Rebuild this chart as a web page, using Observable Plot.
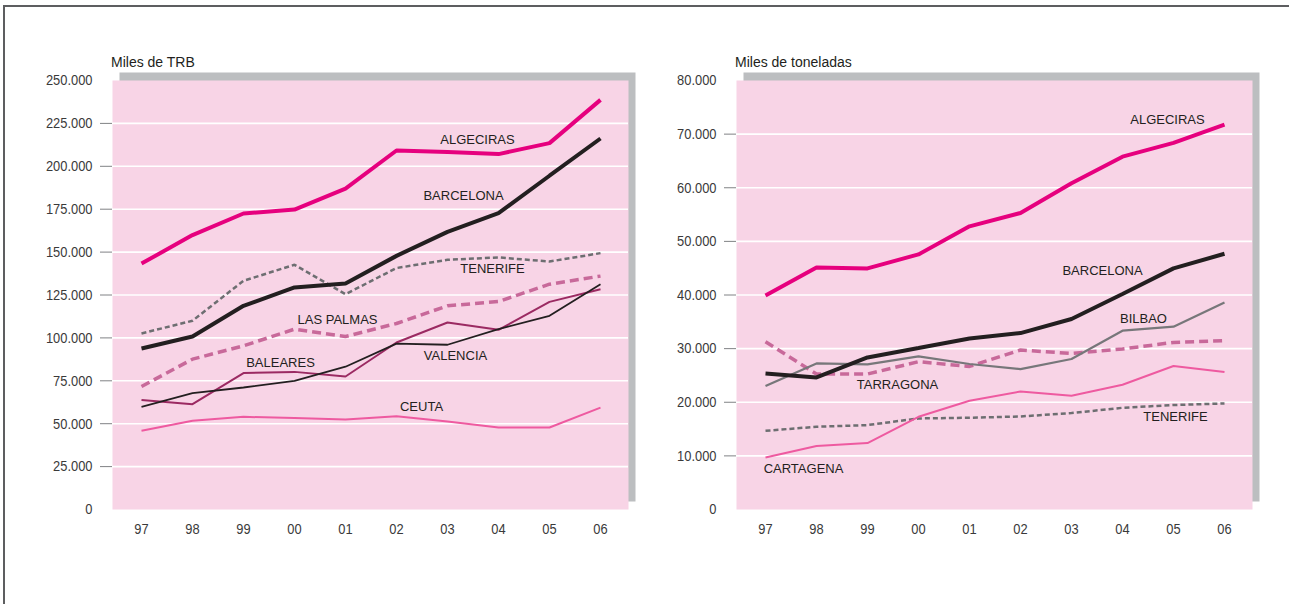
<!DOCTYPE html>
<html>
<head>
<meta charset="utf-8">
<script src="https://cdn.jsdelivr.net/npm/d3@7"></script>
<script src="https://cdn.jsdelivr.net/npm/@observablehq/plot@0.6"></script>
<style>
  html, body { margin: 0; padding: 0; background: #fff; }
  #page { position: relative; width: 1289px; height: 604px; overflow: hidden; }
  #border { position: absolute; left: 3px; top: 5px; width: 1300px; height: 620px;
            border-top: 2px solid #5d5e60; border-left: 2px solid #5d5e60; }
  .title { position: absolute; top: 55px; font: 14px "Liberation Sans", Arial, sans-serif;
           line-height: 14px; color: #231f20; white-space: nowrap; }
  .chart { position: absolute; top: 0; }
</style>
</head>
<body>
<div id="page">
  <div id="border"></div>
  <div class="title" style="left:111px">Miles de TRB</div>
  <div class="title" style="left:735px">Miles de toneladas</div>
  <div class="chart" id="left" style="left:0px"></div>
  <div class="chart" id="right" style="left:624px"></div>
</div>
<script>
// ---------- data ----------
const years = ["97","98","99","00","01","02","03","04","05","06"];

// Left: Miles de TRB
const trbAlgeciras = [143300,159900,172500,174800,187000,209200,208300,207100,213500,238700];
const trbBarcelona = [93800,100800,118700,129400,131700,147800,161800,172700,194500,216200];
const trbTenerife  = [102600,110000,133300,142600,125500,140700,145500,146900,144500,149400];
const trbLasPalmas = [71700,87600,95400,105100,100800,108400,118700,121200,131300,136000];
const trbValencia  = [59800,67800,71100,75000,83200,96700,96000,105100,112900,131300];
const trbBaleares  = [63800,61400,79500,80200,77500,97300,109000,104700,121000,128400];
const trbCeuta     = [45900,51700,54000,53300,52400,54400,51300,47800,47800,59400];

// Right: Miles de toneladas
const tnAlgeciras = [39900,45150,44960,47570,52800,55300,60820,65800,68360,71770];
const tnBarcelona = [25370,24630,28360,30110,31900,32900,35520,40190,44960,47700];
const tnBilbao    = [23020,27240,27050,28550,27130,26190,28060,33340,34090,38620];
const tnTarragona = [31290,25260,25260,27560,26680,29740,29100,29930,31160,31470];
const tnCartagena = [9700,11830,12390,17290,20280,22010,21210,23260,26750,25630];
const tnTenerife  = [14680,15430,15740,16980,17110,17350,17980,18970,19480,19780];

// ---------- styles ----------
const ST = {
  algeciras: {stroke: "#e6007e", strokeWidth: 4},
  barcelona: {stroke: "#231f20", strokeWidth: 4},
  tenerife:  {stroke: "#6d6e71", strokeWidth: 2.5, strokeDasharray: "5,3"},
  dashMauve: {stroke: "#c8699a", strokeWidth: 3.5, strokeDasharray: "9,5"},
  valencia:  {stroke: "#231f20", strokeWidth: 1.8},
  baleares:  {stroke: "#9b2a62", strokeWidth: 2},
  pinkThin:  {stroke: "#ee5aa0", strokeWidth: 2},
  bilbao:    {stroke: "#77777a", strokeWidth: 2.2}
};

const leftSeries = [
  {name: "CEUTA", values: trbCeuta, style: ST.pinkThin},
  {name: "BALEARES", values: trbBaleares, style: ST.baleares},
  {name: "VALENCIA", values: trbValencia, style: ST.valencia},
  {name: "LAS PALMAS", values: trbLasPalmas, style: ST.dashMauve},
  {name: "TENERIFE", values: trbTenerife, style: ST.tenerife},
  {name: "BARCELONA", values: trbBarcelona, style: ST.barcelona},
  {name: "ALGECIRAS", values: trbAlgeciras, style: ST.algeciras}
];
const leftLabels = [
  {name: "ALGECIRAS", at: "03", dx: 30, dy: -12},
  {name: "BARCELONA", at: "03", dx: 16, dy: -36},
  {name: "TENERIFE", at: "04", dx: -6, dy: 11},
  {name: "LAS PALMAS", at: "01", dx: -8, dy: -17},
  {name: "BALEARES", at: "00", dx: -14, dy: -9},
  {name: "VALENCIA", at: "03", dx: 8, dy: 11},
  {name: "CEUTA", at: "02", dx: 25, dy: -9}
];

const rightSeries = [
  {name: "TENERIFE", values: tnTenerife, style: ST.tenerife},
  {name: "CARTAGENA", values: tnCartagena, style: ST.pinkThin},
  {name: "TARRAGONA", values: tnTarragona, style: ST.dashMauve},
  {name: "BILBAO", values: tnBilbao, style: ST.bilbao},
  {name: "BARCELONA", values: tnBarcelona, style: ST.barcelona},
  {name: "ALGECIRAS", values: tnAlgeciras, style: ST.algeciras}
];
const rightLabels = [
  {name: "ALGECIRAS", at: "05", dx: -6, dy: -23},
  {name: "BARCELONA", at: "04", dx: -20, dy: -23},
  {name: "BILBAO", at: "04", dx: 21, dy: -12},
  {name: "TARRAGONA", at: "99", dx: 30, dy: 11},
  {name: "TENERIFE", at: "05", dx: 2, dy: 12},
  {name: "CARTAGENA", at: "97", dx: 38, dy: 11}
];

const fmt = v => v === 0 ? "0" : d3.format(",")(v).replace(/,/g, ".");

function chart(series, labels, yMax, yStep) {
  const all = d3.range(0, yMax + 1, yStep);
  const inner = all.filter(v => v > 0 && v < yMax);
  const lineMarks = series.map(s =>
    Plot.line(years.map((y, i) => ({year: y, value: s.values[i]})),
      {x: "year", y: "value", ...s.style, strokeLinejoin: "miter", strokeLinecap: "butt"}));
  const labelMarks = labels.map(l => {
    const s = series.find(d => d.name === l.name);
    const i = years.indexOf(l.at);
    return Plot.text([{year: l.at, value: s.values[i], name: l.name}],
      {x: "year", y: "value", text: "name", dx: l.dx, dy: l.dy,
       fontSize: 13, fontFamily: "Liberation Sans, Arial, sans-serif", fill: "#231f20"});
  });
  const svg = Plot.plot({
    width: 640, height: 560,
    marginLeft: 112, marginRight: 12, marginTop: 80, marginBottom: 51,
    style: {fontFamily: "'Liberation Sans', Arial, sans-serif", background: "transparent", overflow: "visible"},
    x: {type: "point", domain: years, padding: 0.47, label: null},
    y: {domain: [0, yMax], label: null},
    marks: [
      Plot.frame({fill: "#bcbec0", dx: 7, dy: -8}),
      Plot.frame({fill: "#f8d4e6"}),
      Plot.gridY(inner, {stroke: "#ffffff", strokeOpacity: 1, strokeWidth: 1.6}),
      Plot.axisY(inner, {tickSize: 12, tickFormat: () => "", stroke: "#808285"}),
      Plot.axisY(all, {tickSize: 0, tickPadding: 20, tickFormat: fmt, fontSize: 15, fill: "#3a3a3a"}),
      Plot.axisX({tickSize: 0, tickPadding: 14, fontSize: 15, fill: "#3a3a3a"}),
      ...lineMarks,
      ...labelMarks
    ]
  });
  // condensed look for tick labels (horizontal squeeze)
  d3.select(svg).selectAll("g[aria-label='y-axis tick label'] text, g[aria-label='x-axis tick label'] text")
    .each(function() {
      const t = this.getAttribute("transform");
      if (t) this.setAttribute("transform", t + " scale(0.86,1)");
      else {
        const x = +this.getAttribute("x") || 0, y = +this.getAttribute("y") || 0;
        this.removeAttribute("x"); this.removeAttribute("y");
        this.setAttribute("transform", `translate(${x},${y}) scale(0.86,1)`);
      }
    });
  return svg;
}

document.getElementById("left").append(chart(leftSeries, leftLabels, 250000, 25000));
document.getElementById("right").append(chart(rightSeries, rightLabels, 80000, 10000));
</script>
</body>
</html>
